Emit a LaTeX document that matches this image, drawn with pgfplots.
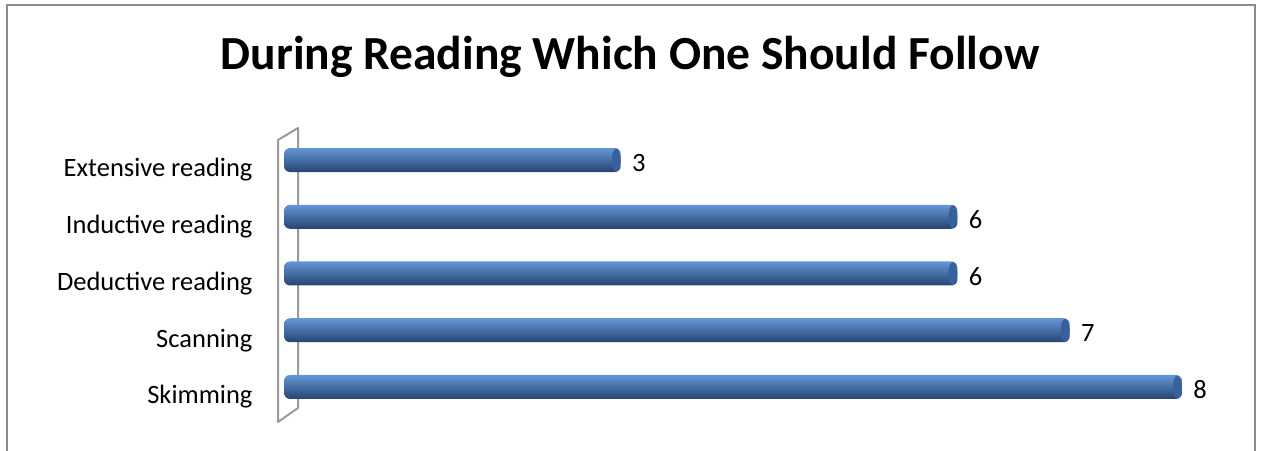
\documentclass[border=0pt]{standalone}
\usepackage{pgfplots}
\pgfplotsset{compat=1.18}
\usepackage{fontspec}
\setmainfont{Carlito}
\definecolor{barlight}{RGB}{100,150,216}
\definecolor{barmid}{RGB}{82,128,194}
\definecolor{bardark}{RGB}{38,68,112}
\definecolor{capcol}{RGB}{56,96,156}
\definecolor{wallgray}{RGB}{155,155,155}
\definecolor{bordergray}{RGB}{140,140,140}
\pgfdeclareplotmark{barcap}{%
  \pgfpathellipse{\pgfpoint{-4.5bp}{0bp}}{\pgfpoint{4.5bp}{0bp}}{\pgfpoint{0bp}{11.5bp}}%
  \pgfusepathqfill}
\pgfplotsset{
  cylbar/.style={xbar, bar width=24bp, draw=none, rounded corners=6bp,
    top color=barlight, middle color=barmid, bottom color=bardark,
    nodes near coords={\pgfmathprintnumber{\pgfplotspointmeta}},
    nodes near coords style={anchor=west, xshift=8bp, yshift=-3bp, text=black, font=\fontsize{26.5bp}{30bp}\selectfont},
    point meta=x},
}
\begin{document}
\begin{tikzpicture}[x=1bp,y=1bp]
\useasboundingbox (0,0) rectangle (1261,451);
\draw[bordergray, line width=2bp] (7,0) -- (7,446) -- (1255,446) -- (1255,0);
\node[anchor=base, font=\bfseries\fontsize{47.5bp}{54bp}\selectfont] at (630,381) {During Reading Which One Should Follow};
\draw[wallgray, line width=2bp, line join=round] (278,311) -- (278,29) -- (298,43) -- (298,323) -- cycle;
\begin{axis}[
  at={(284bp,30bp)}, anchor=south west,
  scale only axis, width=954bp, height=295bp,
  xmin=0, xmax=8.5, ymin=-0.6, ymax=4.6,
  axis lines=none,
  clip=false,
  /pgf/number format/assume math mode=true,
]
\addplot[cylbar] coordinates {(8,0)};
\addplot[cylbar] coordinates {(7,1)};
\addplot[cylbar] coordinates {(6,2)};
\addplot[cylbar] coordinates {(6,3)};
\addplot[cylbar] coordinates {(3,4)};
\addplot[only marks, mark=barcap, color=capcol] coordinates {(8,0) (7,1) (6,2) (6,3) (3,4)};
\foreach \lab/\yy in {Skimming/0, Scanning/1, Deductive reading/2, Inductive reading/3, Extensive reading/4} {
  \edef\tmp{\noexpand\node[anchor=east, font=\noexpand\fontsize{26.5bp}{30bp}\noexpand\selectfont, yshift=-10bp] at (axis cs:-0.25,\yy) {\lab};}
  \tmp
}
\end{axis}
\end{tikzpicture}
\end{document}
